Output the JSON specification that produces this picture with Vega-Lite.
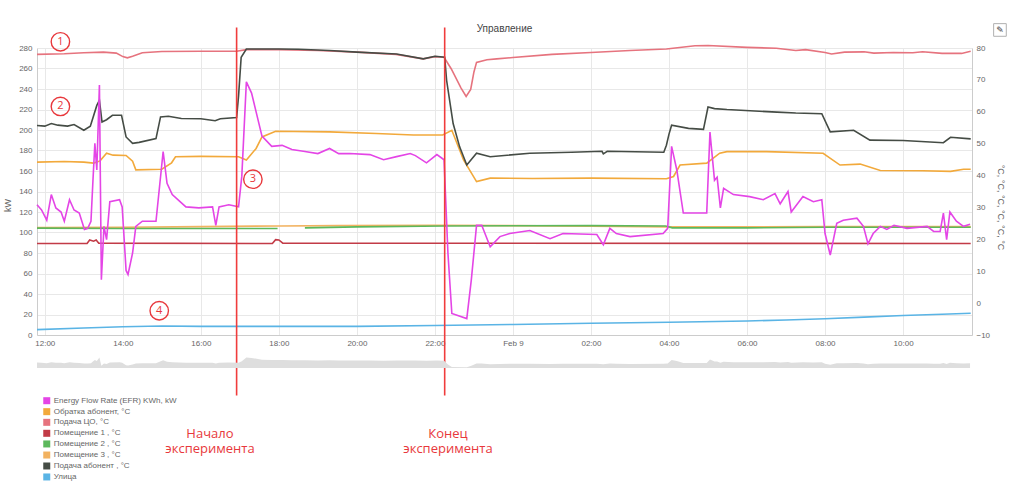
{
  "$schema": "https://vega.github.io/schema/vega-lite/v6.json",
  "width": 935,
  "height": 287,
  "autosize": "none",
  "padding": {"left": 37, "top": 48, "right": 52, "bottom": 155},
  "background": "white",
  "datasets": {
    "series": [
      {"t": "2024-02-08T11:48", "s": "Улица", "v": -8.3},
      {"t": "2024-02-08T13:00", "s": "Улица", "v": -7.8},
      {"t": "2024-02-08T14:00", "s": "Улица", "v": -7.4},
      {"t": "2024-02-08T15:00", "s": "Улица", "v": -7.2},
      {"t": "2024-02-08T16:00", "s": "Улица", "v": -7.3},
      {"t": "2024-02-08T18:00", "s": "Улица", "v": -7.3},
      {"t": "2024-02-08T20:00", "s": "Улица", "v": -7.3},
      {"t": "2024-02-08T22:00", "s": "Улица", "v": -7.0},
      {"t": "2024-02-09T00:00", "s": "Улица", "v": -6.7},
      {"t": "2024-02-09T02:00", "s": "Улица", "v": -6.3},
      {"t": "2024-02-09T04:00", "s": "Улица", "v": -6.0},
      {"t": "2024-02-09T06:00", "s": "Улица", "v": -5.6},
      {"t": "2024-02-09T07:00", "s": "Улица", "v": -5.3},
      {"t": "2024-02-09T08:00", "s": "Улица", "v": -4.9},
      {"t": "2024-02-09T09:00", "s": "Улица", "v": -4.4},
      {"t": "2024-02-09T10:00", "s": "Улица", "v": -3.9},
      {"t": "2024-02-09T11:00", "s": "Улица", "v": -3.5},
      {"t": "2024-02-09T11:44", "s": "Улица", "v": -3.2},

      {"t": "2024-02-08T11:48", "s": "Помещение 3 , °C", "v": 23.7},
      {"t": "2024-02-08T14:00", "s": "Помещение 3 , °C", "v": 23.8},
      {"t": "2024-02-08T16:00", "s": "Помещение 3 , °C", "v": 24.0},
      {"t": "2024-02-08T18:00", "s": "Помещение 3 , °C", "v": 24.2},
      {"t": "2024-02-08T19:30", "s": "Помещение 3 , °C", "v": 24.3},
      {"t": "2024-02-08T22:00", "s": "Помещение 3 , °C", "v": 24.4},
      {"t": "2024-02-09T00:00", "s": "Помещение 3 , °C", "v": 24.3},
      {"t": "2024-02-09T02:00", "s": "Помещение 3 , °C", "v": 24.1},
      {"t": "2024-02-09T04:00", "s": "Помещение 3 , °C", "v": 23.9},
      {"t": "2024-02-09T06:00", "s": "Помещение 3 , °C", "v": 23.9},
      {"t": "2024-02-09T08:00", "s": "Помещение 3 , °C", "v": 24.0},
      {"t": "2024-02-09T11:44", "s": "Помещение 3 , °C", "v": 24.0},

      {"t": "2024-02-08T11:48", "s": "Помещение 2 , °C", "v": 23.5},
      {"t": "2024-02-08T14:00", "s": "Помещение 2 , °C", "v": 23.4},
      {"t": "2024-02-08T16:00", "s": "Помещение 2 , °C", "v": 23.4},
      {"t": "2024-02-08T17:58", "s": "Помещение 2 , °C", "v": 23.4},
      {"t": "2024-02-08T18:10", "s": "Помещение 2 , °C", "v": null},
      {"t": "2024-02-08T18:40", "s": "Помещение 2 , °C", "v": 23.6},
      {"t": "2024-02-08T20:00", "s": "Помещение 2 , °C", "v": 23.9},
      {"t": "2024-02-08T22:15", "s": "Помещение 2 , °C", "v": 24.2},
      {"t": "2024-02-09T02:00", "s": "Помещение 2 , °C", "v": 24.3},
      {"t": "2024-02-09T03:55", "s": "Помещение 2 , °C", "v": 24.2},
      {"t": "2024-02-09T04:05", "s": "Помещение 2 , °C", "v": 23.6},
      {"t": "2024-02-09T06:00", "s": "Помещение 2 , °C", "v": 23.6},
      {"t": "2024-02-09T08:00", "s": "Помещение 2 , °C", "v": 23.8},
      {"t": "2024-02-09T11:44", "s": "Помещение 2 , °C", "v": 23.8},

      {"t": "2024-02-08T11:48", "s": "Помещение 1 , °C", "v": 18.7},
      {"t": "2024-02-08T13:05", "s": "Помещение 1 , °C", "v": 18.7},
      {"t": "2024-02-08T13:09", "s": "Помещение 1 , °C", "v": 19.8},
      {"t": "2024-02-08T13:15", "s": "Помещение 1 , °C", "v": 19.4},
      {"t": "2024-02-08T13:19", "s": "Помещение 1 , °C", "v": 19.8},
      {"t": "2024-02-08T13:23", "s": "Помещение 1 , °C", "v": 18.8},
      {"t": "2024-02-08T17:50", "s": "Помещение 1 , °C", "v": 18.7},
      {"t": "2024-02-08T17:55", "s": "Помещение 1 , °C", "v": 19.9},
      {"t": "2024-02-08T18:00", "s": "Помещение 1 , °C", "v": 19.8},
      {"t": "2024-02-08T18:06", "s": "Помещение 1 , °C", "v": 18.8},
      {"t": "2024-02-09T11:44", "s": "Помещение 1 , °C", "v": 18.7},

      {"t": "2024-02-08T11:48", "s": "Подача ЦО, °C", "v": 78.0},
      {"t": "2024-02-08T12:30", "s": "Подача ЦО, °C", "v": 78.2},
      {"t": "2024-02-08T13:00", "s": "Подача ЦО, °C", "v": 78.5},
      {"t": "2024-02-08T13:30", "s": "Подача ЦО, °C", "v": 78.7},
      {"t": "2024-02-08T13:50", "s": "Подача ЦО, °C", "v": 78.4},
      {"t": "2024-02-08T14:00", "s": "Подача ЦО, °C", "v": 77.3},
      {"t": "2024-02-08T14:07", "s": "Подача ЦО, °C", "v": 76.9},
      {"t": "2024-02-08T14:15", "s": "Подача ЦО, °C", "v": 77.4},
      {"t": "2024-02-08T14:30", "s": "Подача ЦО, °C", "v": 78.5},
      {"t": "2024-02-08T15:00", "s": "Подача ЦО, °C", "v": 78.9},
      {"t": "2024-02-08T16:00", "s": "Подача ЦО, °C", "v": 79.0},
      {"t": "2024-02-08T16:55", "s": "Подача ЦО, °C", "v": 79.0},
      {"t": "2024-02-08T17:10", "s": "Подача ЦО, °C", "v": 79.5},
      {"t": "2024-02-08T18:00", "s": "Подача ЦО, °C", "v": 79.5},
      {"t": "2024-02-08T19:00", "s": "Подача ЦО, °C", "v": 79.2},
      {"t": "2024-02-08T20:00", "s": "Подача ЦО, °C", "v": 78.7},
      {"t": "2024-02-08T21:00", "s": "Подача ЦО, °C", "v": 78.0},
      {"t": "2024-02-08T21:42", "s": "Подача ЦО, °C", "v": 76.6},
      {"t": "2024-02-08T22:00", "s": "Подача ЦО, °C", "v": 77.3},
      {"t": "2024-02-08T22:14", "s": "Подача ЦО, °C", "v": 77.1},
      {"t": "2024-02-08T22:25", "s": "Подача ЦО, °C", "v": 73.5},
      {"t": "2024-02-08T22:40", "s": "Подача ЦО, °C", "v": 67.5},
      {"t": "2024-02-08T22:48", "s": "Подача ЦО, °C", "v": 64.8},
      {"t": "2024-02-08T22:55", "s": "Подача ЦО, °C", "v": 67.0},
      {"t": "2024-02-08T23:00", "s": "Подача ЦО, °C", "v": 72.5},
      {"t": "2024-02-08T23:04", "s": "Подача ЦО, °C", "v": 75.5},
      {"t": "2024-02-08T23:20", "s": "Подача ЦО, °C", "v": 76.3},
      {"t": "2024-02-08T23:35", "s": "Подача ЦО, °C", "v": 76.6},
      {"t": "2024-02-09T00:00", "s": "Подача ЦО, °C", "v": 77.0},
      {"t": "2024-02-09T01:00", "s": "Подача ЦО, °C", "v": 78.0},
      {"t": "2024-02-09T02:00", "s": "Подача ЦО, °C", "v": 78.6},
      {"t": "2024-02-09T03:00", "s": "Подача ЦО, °C", "v": 79.2},
      {"t": "2024-02-09T03:56", "s": "Подача ЦО, °C", "v": 79.7},
      {"t": "2024-02-09T04:40", "s": "Подача ЦО, °C", "v": 80.7},
      {"t": "2024-02-09T05:00", "s": "Подача ЦО, °C", "v": 80.8},
      {"t": "2024-02-09T06:00", "s": "Подача ЦО, °C", "v": 80.2},
      {"t": "2024-02-09T06:45", "s": "Подача ЦО, °C", "v": 79.9},
      {"t": "2024-02-09T07:15", "s": "Подача ЦО, °C", "v": 79.2},
      {"t": "2024-02-09T07:30", "s": "Подача ЦО, °C", "v": 79.5},
      {"t": "2024-02-09T08:00", "s": "Подача ЦО, °C", "v": 78.6},
      {"t": "2024-02-09T08:10", "s": "Подача ЦО, °C", "v": 78.1},
      {"t": "2024-02-09T08:30", "s": "Подача ЦО, °C", "v": 78.7},
      {"t": "2024-02-09T09:00", "s": "Подача ЦО, °C", "v": 78.8},
      {"t": "2024-02-09T09:15", "s": "Подача ЦО, °C", "v": 78.4},
      {"t": "2024-02-09T09:45", "s": "Подача ЦО, °C", "v": 78.6},
      {"t": "2024-02-09T10:15", "s": "Подача ЦО, °C", "v": 78.5},
      {"t": "2024-02-09T10:30", "s": "Подача ЦО, °C", "v": 78.8},
      {"t": "2024-02-09T11:00", "s": "Подача ЦО, °C", "v": 78.3},
      {"t": "2024-02-09T11:30", "s": "Подача ЦО, °C", "v": 78.3},
      {"t": "2024-02-09T11:44", "s": "Подача ЦО, °C", "v": 79.0},

      {"t": "2024-02-08T11:48", "s": "Обратка абонент, °C", "v": 44.2},
      {"t": "2024-02-08T12:30", "s": "Обратка абонент, °C", "v": 44.4},
      {"t": "2024-02-08T13:00", "s": "Обратка абонент, °C", "v": 44.2},
      {"t": "2024-02-08T13:15", "s": "Обратка абонент, °C", "v": 43.9},
      {"t": "2024-02-08T13:25", "s": "Обратка абонент, °C", "v": 44.6},
      {"t": "2024-02-08T13:35", "s": "Обратка абонент, °C", "v": 47.0},
      {"t": "2024-02-08T13:45", "s": "Обратка абонент, °C", "v": 46.4},
      {"t": "2024-02-08T14:05", "s": "Обратка абонент, °C", "v": 46.3},
      {"t": "2024-02-08T14:15", "s": "Обратка абонент, °C", "v": 44.5},
      {"t": "2024-02-08T14:20", "s": "Обратка абонент, °C", "v": 41.8},
      {"t": "2024-02-08T15:00", "s": "Обратка абонент, °C", "v": 42.0},
      {"t": "2024-02-08T15:15", "s": "Обратка абонент, °C", "v": 44.0},
      {"t": "2024-02-08T15:21", "s": "Обратка абонент, °C", "v": 45.9},
      {"t": "2024-02-08T16:00", "s": "Обратка абонент, °C", "v": 46.0},
      {"t": "2024-02-08T16:58", "s": "Обратка абонент, °C", "v": 45.9},
      {"t": "2024-02-08T17:10", "s": "Обратка абонент, °C", "v": 44.9},
      {"t": "2024-02-08T17:25", "s": "Обратка абонент, °C", "v": 48.5},
      {"t": "2024-02-08T17:34", "s": "Обратка абонент, °C", "v": 52.1},
      {"t": "2024-02-08T17:55", "s": "Обратка абонент, °C", "v": 53.9},
      {"t": "2024-02-08T19:18", "s": "Обратка абонент, °C", "v": 53.7},
      {"t": "2024-02-08T20:30", "s": "Обратка абонент, °C", "v": 53.2},
      {"t": "2024-02-08T21:27", "s": "Обратка абонент, °C", "v": 52.7},
      {"t": "2024-02-08T22:12", "s": "Обратка абонент, °C", "v": 52.7},
      {"t": "2024-02-08T22:26", "s": "Обратка абонент, °C", "v": 54.2},
      {"t": "2024-02-08T22:44", "s": "Обратка абонент, °C", "v": 44.9},
      {"t": "2024-02-08T23:04", "s": "Обратка абонент, °C", "v": 38.1},
      {"t": "2024-02-08T23:25", "s": "Обратка абонент, °C", "v": 39.2},
      {"t": "2024-02-09T00:30", "s": "Обратка абонент, °C", "v": 39.1},
      {"t": "2024-02-09T02:00", "s": "Обратка абонент, °C", "v": 39.2},
      {"t": "2024-02-09T03:56", "s": "Обратка абонент, °C", "v": 39.0},
      {"t": "2024-02-09T04:07", "s": "Обратка абонент, °C", "v": 39.7},
      {"t": "2024-02-09T04:17", "s": "Обратка абонент, °C", "v": 43.3},
      {"t": "2024-02-09T04:58", "s": "Обратка абонент, °C", "v": 43.9},
      {"t": "2024-02-09T05:18", "s": "Обратка абонент, °C", "v": 47.0},
      {"t": "2024-02-09T05:29", "s": "Обратка абонент, °C", "v": 47.5},
      {"t": "2024-02-09T06:30", "s": "Обратка абонент, °C", "v": 47.5},
      {"t": "2024-02-09T07:57", "s": "Обратка абонент, °C", "v": 47.0},
      {"t": "2024-02-09T08:23", "s": "Обратка абонент, °C", "v": 43.3},
      {"t": "2024-02-09T08:54", "s": "Обратка абонент, °C", "v": 43.6},
      {"t": "2024-02-09T09:25", "s": "Обратка абонент, °C", "v": 41.6},
      {"t": "2024-02-09T10:30", "s": "Обратка абонент, °C", "v": 41.5},
      {"t": "2024-02-09T11:13", "s": "Обратка абонент, °C", "v": 41.3},
      {"t": "2024-02-09T11:33", "s": "Обратка абонент, °C", "v": 42.0},
      {"t": "2024-02-09T11:44", "s": "Обратка абонент, °C", "v": 42.0},

      {"t": "2024-02-08T11:48", "s": "Подача абонент , °C", "v": 55.7},
      {"t": "2024-02-08T12:00", "s": "Подача абонент , °C", "v": 55.5},
      {"t": "2024-02-08T12:10", "s": "Подача абонент , °C", "v": 56.3},
      {"t": "2024-02-08T12:20", "s": "Подача абонент , °C", "v": 55.8},
      {"t": "2024-02-08T12:35", "s": "Подача абонент , °C", "v": 55.5},
      {"t": "2024-02-08T12:45", "s": "Подача абонент , °C", "v": 56.0},
      {"t": "2024-02-08T13:00", "s": "Подача абонент , °C", "v": 54.2},
      {"t": "2024-02-08T13:10", "s": "Подача абонент , °C", "v": 55.5},
      {"t": "2024-02-08T13:20", "s": "Подача абонент , °C", "v": 62.0},
      {"t": "2024-02-08T13:24", "s": "Подача абонент , °C", "v": 63.6},
      {"t": "2024-02-08T13:28", "s": "Подача абонент , °C", "v": 56.8},
      {"t": "2024-02-08T13:35", "s": "Подача абонент , °C", "v": 57.5},
      {"t": "2024-02-08T13:44", "s": "Подача абонент , °C", "v": 58.9},
      {"t": "2024-02-08T13:58", "s": "Подача абонент , °C", "v": 58.9},
      {"t": "2024-02-08T14:05", "s": "Подача абонент , °C", "v": 52.1},
      {"t": "2024-02-08T14:15", "s": "Подача абонент , °C", "v": 50.1},
      {"t": "2024-02-08T14:25", "s": "Подача абонент , °C", "v": 50.4},
      {"t": "2024-02-08T14:51", "s": "Подача абонент , °C", "v": 51.6},
      {"t": "2024-02-08T14:58", "s": "Подача абонент , °C", "v": 58.4},
      {"t": "2024-02-08T15:10", "s": "Подача абонент , °C", "v": 58.6},
      {"t": "2024-02-08T15:30", "s": "Подача абонент , °C", "v": 57.9},
      {"t": "2024-02-08T16:00", "s": "Подача абонент , °C", "v": 57.8},
      {"t": "2024-02-08T16:22", "s": "Подача абонент , °C", "v": 57.2},
      {"t": "2024-02-08T16:30", "s": "Подача абонент , °C", "v": 57.8},
      {"t": "2024-02-08T16:55", "s": "Подача абонент , °C", "v": 58.2},
      {"t": "2024-02-08T16:58", "s": "Подача абонент , °C", "v": 65.0},
      {"t": "2024-02-08T17:02", "s": "Подача абонент , °C", "v": 77.1},
      {"t": "2024-02-08T17:10", "s": "Подача абонент , °C", "v": 79.7},
      {"t": "2024-02-08T18:00", "s": "Подача абонент , °C", "v": 79.7},
      {"t": "2024-02-08T18:30", "s": "Подача абонент , °C", "v": 79.6},
      {"t": "2024-02-08T19:18", "s": "Подача абонент , °C", "v": 79.2},
      {"t": "2024-02-08T20:00", "s": "Подача абонент , °C", "v": 78.7},
      {"t": "2024-02-08T21:01", "s": "Подача абонент , °C", "v": 78.1},
      {"t": "2024-02-08T21:42", "s": "Подача абонент , °C", "v": 76.6},
      {"t": "2024-02-08T22:00", "s": "Подача абонент , °C", "v": 77.4},
      {"t": "2024-02-08T22:15", "s": "Подача абонент , °C", "v": 77.1},
      {"t": "2024-02-08T22:18", "s": "Подача абонент , °C", "v": 69.8},
      {"t": "2024-02-08T22:28", "s": "Подача абонент , °C", "v": 56.3},
      {"t": "2024-02-08T22:38", "s": "Подача абонент , °C", "v": 49.0},
      {"t": "2024-02-08T22:49", "s": "Подача абонент , °C", "v": 43.3},
      {"t": "2024-02-08T23:04", "s": "Подача абонент , °C", "v": 47.0},
      {"t": "2024-02-08T23:25", "s": "Подача абонент , °C", "v": 45.9},
      {"t": "2024-02-09T00:26", "s": "Подача абонент , °C", "v": 47.0},
      {"t": "2024-02-09T01:30", "s": "Подача абонент , °C", "v": 47.3},
      {"t": "2024-02-09T02:17", "s": "Подача абонент , °C", "v": 47.6},
      {"t": "2024-02-09T02:19", "s": "Подача абонент , °C", "v": 46.8},
      {"t": "2024-02-09T02:25", "s": "Подача абонент , °C", "v": 47.6},
      {"t": "2024-02-09T03:52", "s": "Подача абонент , °C", "v": 47.3},
      {"t": "2024-02-09T03:56", "s": "Подача абонент , °C", "v": 49.5},
      {"t": "2024-02-09T04:00", "s": "Подача абонент , °C", "v": 53.0},
      {"t": "2024-02-09T04:04", "s": "Подача абонент , °C", "v": 55.8},
      {"t": "2024-02-09T04:30", "s": "Подача абонент , °C", "v": 54.8},
      {"t": "2024-02-09T04:53", "s": "Подача абонент , °C", "v": 54.5},
      {"t": "2024-02-09T05:00", "s": "Подача абонент , °C", "v": 61.5},
      {"t": "2024-02-09T05:10", "s": "Подача абонент , °C", "v": 61.0},
      {"t": "2024-02-09T05:29", "s": "Подача абонент , °C", "v": 60.7},
      {"t": "2024-02-09T06:46", "s": "Подача абонент , °C", "v": 59.9},
      {"t": "2024-02-09T07:15", "s": "Подача абонент , °C", "v": 59.6},
      {"t": "2024-02-09T07:55", "s": "Подача абонент , °C", "v": 59.4},
      {"t": "2024-02-09T08:08", "s": "Подача абонент , °C", "v": 53.7},
      {"t": "2024-02-09T08:44", "s": "Подача абонент , °C", "v": 54.2},
      {"t": "2024-02-09T09:09", "s": "Подача абонент , °C", "v": 51.1},
      {"t": "2024-02-09T10:00", "s": "Подача абонент , °C", "v": 51.0},
      {"t": "2024-02-09T11:02", "s": "Подача абонент , °C", "v": 50.3},
      {"t": "2024-02-09T11:13", "s": "Подача абонент , °C", "v": 52.0},
      {"t": "2024-02-09T11:44", "s": "Подача абонент , °C", "v": 51.5},

      {"t": "2024-02-08T11:48", "s": "Energy Flow Rate (EFR) KWh, kW", "v": 127},
      {"t": "2024-02-08T11:55", "s": "Energy Flow Rate (EFR) KWh, kW", "v": 122},
      {"t": "2024-02-08T12:03", "s": "Energy Flow Rate (EFR) KWh, kW", "v": 112},
      {"t": "2024-02-08T12:10", "s": "Energy Flow Rate (EFR) KWh, kW", "v": 137},
      {"t": "2024-02-08T12:17", "s": "Energy Flow Rate (EFR) KWh, kW", "v": 124},
      {"t": "2024-02-08T12:25", "s": "Energy Flow Rate (EFR) KWh, kW", "v": 120},
      {"t": "2024-02-08T12:30", "s": "Energy Flow Rate (EFR) KWh, kW", "v": 111},
      {"t": "2024-02-08T12:38", "s": "Energy Flow Rate (EFR) KWh, kW", "v": 132},
      {"t": "2024-02-08T12:45", "s": "Energy Flow Rate (EFR) KWh, kW", "v": 122},
      {"t": "2024-02-08T12:53", "s": "Energy Flow Rate (EFR) KWh, kW", "v": 119},
      {"t": "2024-02-08T13:01", "s": "Energy Flow Rate (EFR) KWh, kW", "v": 103},
      {"t": "2024-02-08T13:06", "s": "Energy Flow Rate (EFR) KWh, kW", "v": 104},
      {"t": "2024-02-08T13:11", "s": "Energy Flow Rate (EFR) KWh, kW", "v": 111},
      {"t": "2024-02-08T13:14", "s": "Energy Flow Rate (EFR) KWh, kW", "v": 150},
      {"t": "2024-02-08T13:17", "s": "Energy Flow Rate (EFR) KWh, kW", "v": 187},
      {"t": "2024-02-08T13:20", "s": "Energy Flow Rate (EFR) KWh, kW", "v": 161},
      {"t": "2024-02-08T13:24", "s": "Energy Flow Rate (EFR) KWh, kW", "v": 244},
      {"t": "2024-02-08T13:27", "s": "Energy Flow Rate (EFR) KWh, kW", "v": 54},
      {"t": "2024-02-08T13:31", "s": "Energy Flow Rate (EFR) KWh, kW", "v": 106},
      {"t": "2024-02-08T13:35", "s": "Energy Flow Rate (EFR) KWh, kW", "v": 93},
      {"t": "2024-02-08T13:40", "s": "Energy Flow Rate (EFR) KWh, kW", "v": 130},
      {"t": "2024-02-08T13:55", "s": "Energy Flow Rate (EFR) KWh, kW", "v": 132},
      {"t": "2024-02-08T13:59", "s": "Energy Flow Rate (EFR) KWh, kW", "v": 125},
      {"t": "2024-02-08T14:05", "s": "Energy Flow Rate (EFR) KWh, kW", "v": 63},
      {"t": "2024-02-08T14:08", "s": "Energy Flow Rate (EFR) KWh, kW", "v": 59},
      {"t": "2024-02-08T14:15", "s": "Energy Flow Rate (EFR) KWh, kW", "v": 80},
      {"t": "2024-02-08T14:20", "s": "Energy Flow Rate (EFR) KWh, kW", "v": 106},
      {"t": "2024-02-08T14:30", "s": "Energy Flow Rate (EFR) KWh, kW", "v": 111},
      {"t": "2024-02-08T14:51", "s": "Energy Flow Rate (EFR) KWh, kW", "v": 111},
      {"t": "2024-02-08T15:02", "s": "Energy Flow Rate (EFR) KWh, kW", "v": 179},
      {"t": "2024-02-08T15:08", "s": "Energy Flow Rate (EFR) KWh, kW", "v": 148},
      {"t": "2024-02-08T15:16", "s": "Energy Flow Rate (EFR) KWh, kW", "v": 137},
      {"t": "2024-02-08T15:37", "s": "Energy Flow Rate (EFR) KWh, kW", "v": 125},
      {"t": "2024-02-08T15:57", "s": "Energy Flow Rate (EFR) KWh, kW", "v": 124},
      {"t": "2024-02-08T16:18", "s": "Energy Flow Rate (EFR) KWh, kW", "v": 125},
      {"t": "2024-02-08T16:23", "s": "Energy Flow Rate (EFR) KWh, kW", "v": 107},
      {"t": "2024-02-08T16:28", "s": "Energy Flow Rate (EFR) KWh, kW", "v": 125},
      {"t": "2024-02-08T16:43", "s": "Energy Flow Rate (EFR) KWh, kW", "v": 127},
      {"t": "2024-02-08T16:58", "s": "Energy Flow Rate (EFR) KWh, kW", "v": 125},
      {"t": "2024-02-08T17:03", "s": "Energy Flow Rate (EFR) KWh, kW", "v": 155},
      {"t": "2024-02-08T17:10", "s": "Energy Flow Rate (EFR) KWh, kW", "v": 247},
      {"t": "2024-02-08T17:18", "s": "Energy Flow Rate (EFR) KWh, kW", "v": 236},
      {"t": "2024-02-08T17:34", "s": "Energy Flow Rate (EFR) KWh, kW", "v": 194},
      {"t": "2024-02-08T17:49", "s": "Energy Flow Rate (EFR) KWh, kW", "v": 184},
      {"t": "2024-02-08T18:05", "s": "Energy Flow Rate (EFR) KWh, kW", "v": 185},
      {"t": "2024-02-08T18:20", "s": "Energy Flow Rate (EFR) KWh, kW", "v": 181},
      {"t": "2024-02-08T18:40", "s": "Energy Flow Rate (EFR) KWh, kW", "v": 179},
      {"t": "2024-02-08T19:00", "s": "Energy Flow Rate (EFR) KWh, kW", "v": 177},
      {"t": "2024-02-08T19:18", "s": "Energy Flow Rate (EFR) KWh, kW", "v": 182},
      {"t": "2024-02-08T19:32", "s": "Energy Flow Rate (EFR) KWh, kW", "v": 177},
      {"t": "2024-02-08T19:49", "s": "Energy Flow Rate (EFR) KWh, kW", "v": 177},
      {"t": "2024-02-08T20:20", "s": "Energy Flow Rate (EFR) KWh, kW", "v": 176},
      {"t": "2024-02-08T20:41", "s": "Energy Flow Rate (EFR) KWh, kW", "v": 171},
      {"t": "2024-02-08T21:01", "s": "Energy Flow Rate (EFR) KWh, kW", "v": 174},
      {"t": "2024-02-08T21:22", "s": "Energy Flow Rate (EFR) KWh, kW", "v": 177},
      {"t": "2024-02-08T21:30", "s": "Energy Flow Rate (EFR) KWh, kW", "v": 175},
      {"t": "2024-02-08T21:47", "s": "Energy Flow Rate (EFR) KWh, kW", "v": 168},
      {"t": "2024-02-08T22:03", "s": "Energy Flow Rate (EFR) KWh, kW", "v": 176},
      {"t": "2024-02-08T22:14", "s": "Energy Flow Rate (EFR) KWh, kW", "v": 171},
      {"t": "2024-02-08T22:20", "s": "Energy Flow Rate (EFR) KWh, kW", "v": 80},
      {"t": "2024-02-08T22:26", "s": "Energy Flow Rate (EFR) KWh, kW", "v": 21},
      {"t": "2024-02-08T22:49", "s": "Energy Flow Rate (EFR) KWh, kW", "v": 16},
      {"t": "2024-02-08T22:56", "s": "Energy Flow Rate (EFR) KWh, kW", "v": 54},
      {"t": "2024-02-08T23:04", "s": "Energy Flow Rate (EFR) KWh, kW", "v": 107},
      {"t": "2024-02-08T23:12", "s": "Energy Flow Rate (EFR) KWh, kW", "v": 107},
      {"t": "2024-02-08T23:25", "s": "Energy Flow Rate (EFR) KWh, kW", "v": 86},
      {"t": "2024-02-08T23:40", "s": "Energy Flow Rate (EFR) KWh, kW", "v": 96},
      {"t": "2024-02-08T23:55", "s": "Energy Flow Rate (EFR) KWh, kW", "v": 99},
      {"t": "2024-02-09T00:26", "s": "Energy Flow Rate (EFR) KWh, kW", "v": 102},
      {"t": "2024-02-09T00:57", "s": "Energy Flow Rate (EFR) KWh, kW", "v": 94},
      {"t": "2024-02-09T01:17", "s": "Energy Flow Rate (EFR) KWh, kW", "v": 99},
      {"t": "2024-02-09T02:09", "s": "Energy Flow Rate (EFR) KWh, kW", "v": 98},
      {"t": "2024-02-09T02:19", "s": "Energy Flow Rate (EFR) KWh, kW", "v": 88},
      {"t": "2024-02-09T02:29", "s": "Energy Flow Rate (EFR) KWh, kW", "v": 104},
      {"t": "2024-02-09T02:39", "s": "Energy Flow Rate (EFR) KWh, kW", "v": 99},
      {"t": "2024-02-09T03:00", "s": "Energy Flow Rate (EFR) KWh, kW", "v": 96},
      {"t": "2024-02-09T03:51", "s": "Energy Flow Rate (EFR) KWh, kW", "v": 99},
      {"t": "2024-02-09T03:58", "s": "Energy Flow Rate (EFR) KWh, kW", "v": 104},
      {"t": "2024-02-09T04:04", "s": "Energy Flow Rate (EFR) KWh, kW", "v": 184},
      {"t": "2024-02-09T04:12", "s": "Energy Flow Rate (EFR) KWh, kW", "v": 161},
      {"t": "2024-02-09T04:22", "s": "Energy Flow Rate (EFR) KWh, kW", "v": 119},
      {"t": "2024-02-09T04:58", "s": "Energy Flow Rate (EFR) KWh, kW", "v": 119},
      {"t": "2024-02-09T05:03", "s": "Energy Flow Rate (EFR) KWh, kW", "v": 198},
      {"t": "2024-02-09T05:10", "s": "Energy Flow Rate (EFR) KWh, kW", "v": 151},
      {"t": "2024-02-09T05:14", "s": "Energy Flow Rate (EFR) KWh, kW", "v": 154},
      {"t": "2024-02-09T05:19", "s": "Energy Flow Rate (EFR) KWh, kW", "v": 124},
      {"t": "2024-02-09T05:24", "s": "Energy Flow Rate (EFR) KWh, kW", "v": 143},
      {"t": "2024-02-09T05:39", "s": "Energy Flow Rate (EFR) KWh, kW", "v": 137},
      {"t": "2024-02-09T06:04", "s": "Energy Flow Rate (EFR) KWh, kW", "v": 135},
      {"t": "2024-02-09T06:25", "s": "Energy Flow Rate (EFR) KWh, kW", "v": 132},
      {"t": "2024-02-09T06:43", "s": "Energy Flow Rate (EFR) KWh, kW", "v": 138},
      {"t": "2024-02-09T06:51", "s": "Energy Flow Rate (EFR) KWh, kW", "v": 128},
      {"t": "2024-02-09T07:03", "s": "Energy Flow Rate (EFR) KWh, kW", "v": 140},
      {"t": "2024-02-09T07:08", "s": "Energy Flow Rate (EFR) KWh, kW", "v": 120},
      {"t": "2024-02-09T07:26", "s": "Energy Flow Rate (EFR) KWh, kW", "v": 135},
      {"t": "2024-02-09T07:42", "s": "Energy Flow Rate (EFR) KWh, kW", "v": 130},
      {"t": "2024-02-09T07:55", "s": "Energy Flow Rate (EFR) KWh, kW", "v": 132},
      {"t": "2024-02-09T08:00", "s": "Energy Flow Rate (EFR) KWh, kW", "v": 99},
      {"t": "2024-02-09T08:08", "s": "Energy Flow Rate (EFR) KWh, kW", "v": 78},
      {"t": "2024-02-09T08:18", "s": "Energy Flow Rate (EFR) KWh, kW", "v": 109},
      {"t": "2024-02-09T08:28", "s": "Energy Flow Rate (EFR) KWh, kW", "v": 112},
      {"t": "2024-02-09T08:49", "s": "Energy Flow Rate (EFR) KWh, kW", "v": 114},
      {"t": "2024-02-09T08:59", "s": "Energy Flow Rate (EFR) KWh, kW", "v": 106},
      {"t": "2024-02-09T09:06", "s": "Energy Flow Rate (EFR) KWh, kW", "v": 89},
      {"t": "2024-02-09T09:14", "s": "Energy Flow Rate (EFR) KWh, kW", "v": 99},
      {"t": "2024-02-09T09:25", "s": "Energy Flow Rate (EFR) KWh, kW", "v": 106},
      {"t": "2024-02-09T09:35", "s": "Energy Flow Rate (EFR) KWh, kW", "v": 103},
      {"t": "2024-02-09T09:46", "s": "Energy Flow Rate (EFR) KWh, kW", "v": 107},
      {"t": "2024-02-09T10:06", "s": "Energy Flow Rate (EFR) KWh, kW", "v": 104},
      {"t": "2024-02-09T10:37", "s": "Energy Flow Rate (EFR) KWh, kW", "v": 106},
      {"t": "2024-02-09T10:47", "s": "Energy Flow Rate (EFR) KWh, kW", "v": 101},
      {"t": "2024-02-09T10:57", "s": "Energy Flow Rate (EFR) KWh, kW", "v": 101},
      {"t": "2024-02-09T11:02", "s": "Energy Flow Rate (EFR) KWh, kW", "v": 119},
      {"t": "2024-02-09T11:07", "s": "Energy Flow Rate (EFR) KWh, kW", "v": 93},
      {"t": "2024-02-09T11:12", "s": "Energy Flow Rate (EFR) KWh, kW", "v": 120},
      {"t": "2024-02-09T11:22", "s": "Energy Flow Rate (EFR) KWh, kW", "v": 111},
      {"t": "2024-02-09T11:33", "s": "Energy Flow Rate (EFR) KWh, kW", "v": 106},
      {"t": "2024-02-09T11:43", "s": "Energy Flow Rate (EFR) KWh, kW", "v": 108}
    ],
    "legendrows": [
      {"t": "2024-02-08T12:03", "v": -64.1, "s": "Energy Flow Rate (EFR) KWh, kW"},
      {"t": "2024-02-08T12:03", "v": -74.8, "s": "Обратка абонент, °C"},
      {"t": "2024-02-08T12:03", "v": -85.2, "s": "Подача ЦО, °C"},
      {"t": "2024-02-08T12:03", "v": -95.9, "s": "Помещение 1 , °C"},
      {"t": "2024-02-08T12:03", "v": -106.3, "s": "Помещение 2 , °C"},
      {"t": "2024-02-08T12:03", "v": -117.1, "s": "Помещение 3 , °C"},
      {"t": "2024-02-08T12:03", "v": -127.8, "s": "Подача абонент , °C"},
      {"t": "2024-02-08T12:03", "v": -138.5, "s": "Улица"}
    ],
    "rules": [
      {"t": "2024-02-08T16:55", "v": 300, "v2": -59},
      {"t": "2024-02-08T22:15", "v": 300, "v2": -59}
    ],
    "circles": [
      {"t": "2024-02-08T12:24", "v": 286, "n": "1"},
      {"t": "2024-02-08T12:24", "v": 223, "n": "2"},
      {"t": "2024-02-08T17:20", "v": 152, "n": "3"},
      {"t": "2024-02-08T14:56", "v": 23.7, "n": "4"}
    ],
    "notes": [
      {"t": "2024-02-08T16:14", "v": -96.5, "txt": "Начало"},
      {"t": "2024-02-08T16:14", "v": -111.5, "txt": "эксперимента"},
      {"t": "2024-02-08T22:20", "v": -96.5, "txt": "Конец"},
      {"t": "2024-02-08T22:20", "v": -111.5, "txt": "эксперимента"}
    ],
    "heading": [
      {"t": "2024-02-08T23:47", "v": 298.5, "txt": "Управление"}
    ],
    "icon": [
      {"t": "2024-02-09T12:29", "v": 297.6, "g": "✎"}
    ]
  },
  "encoding": {
    "x": {
      "field": "t",
      "type": "temporal",
      "title": null,
      "scale": {"domain": [{"year": 2024, "month": 2, "date": 8, "hours": 11, "minutes": 48}, {"year": 2024, "month": 2, "date": 9, "hours": 11, "minutes": 46}], "nice": false},
      "axis": {
        "orient": "bottom",
        "values": [
          {"year": 2024, "month": 2, "date": 8, "hours": 12},
          {"year": 2024, "month": 2, "date": 8, "hours": 14},
          {"year": 2024, "month": 2, "date": 8, "hours": 16},
          {"year": 2024, "month": 2, "date": 8, "hours": 18},
          {"year": 2024, "month": 2, "date": 8, "hours": 20},
          {"year": 2024, "month": 2, "date": 8, "hours": 22},
          {"year": 2024, "month": 2, "date": 9, "hours": 0},
          {"year": 2024, "month": 2, "date": 9, "hours": 2},
          {"year": 2024, "month": 2, "date": 9, "hours": 4},
          {"year": 2024, "month": 2, "date": 9, "hours": 6},
          {"year": 2024, "month": 2, "date": 9, "hours": 8},
          {"year": 2024, "month": 2, "date": 9, "hours": 10}
        ],
        "format": "%H:%M",
        "labelExpr": "datum.label == '00:00' ? 'Feb 9' : datum.label",
        "grid": true,
        "labelPadding": 4,
        "labelFlush": false,
        "domainColor": "#cccccc"
      }
    }
  },
  "layer": [
    {
      "data": {"name": "series"},
      "transform": [{"filter": "datum.s !== 'Energy Flow Rate (EFR) KWh, kW'"}],
      "mark": {"type": "line", "strokeWidth": 1.6, "invalid": "break-paths-show-domains"},
      "encoding": {
        "y": {
          "field": "v",
          "type": "quantitative",
          "scale": {"domain": [-10, 80], "nice": false, "zero": false},
          "axis": {
            "orient": "right",
            "title": "°C, °C, °C, °C, °C, °C",
            "titleAngle": 90,
            "titleY": 159,
            "titlePadding": 6,
            "values": [-10, 0, 10, 20, 30, 40, 50, 60, 70, 80],
            "grid": false,
            "labelPadding": 4,
            "domainColor": "#cccccc"
          }
        },
        "color": {
          "field": "s",
          "type": "nominal",
          "scale": {
            "domain": ["Energy Flow Rate (EFR) KWh, kW", "Обратка абонент, °C", "Подача ЦО, °C", "Помещение 1 , °C", "Помещение 2 , °C", "Помещение 3 , °C", "Подача абонент , °C", "Улица"],
            "range": ["#e445e6", "#f2a93b", "#e6737e", "#c23b47", "#5cb85c", "#f2b260", "#454c45", "#5ab4e5"]
          },
          "legend": null
        }
      }
    },
    {
      "encoding": {
        "y": {
          "field": "v",
          "type": "quantitative",
          "title": "kW",
          "scale": {"domain": [0, 280], "nice": false},
          "axis": {
            "orient": "left",
            "values": [0, 20, 40, 60, 80, 100, 120, 140, 160, 180, 200, 220, 240, 260, 280],
            "grid": true,
            "labelPadding": 5,
            "titlePadding": 6,
            "titleY": 157,
            "domainColor": "#cccccc"
          }
        }
      },
      "layer": [
        {
          "data": {"name": "series"},
          "transform": [{"filter": "datum.s === 'Energy Flow Rate (EFR) KWh, kW'"}],
          "mark": {"type": "line", "strokeWidth": 1.6},
          "encoding": {
            "color": {
              "field": "s",
              "type": "nominal",
              "scale": {
                "domain": ["Energy Flow Rate (EFR) KWh, kW", "Обратка абонент, °C", "Подача ЦО, °C", "Помещение 1 , °C", "Помещение 2 , °C", "Помещение 3 , °C", "Подача абонент , °C", "Улица"],
                "range": ["#e445e6", "#f2a93b", "#e6737e", "#c23b47", "#5cb85c", "#f2b260", "#454c45", "#5ab4e5"]
              },
              "legend": null
            }
          }
        },
        {
          "data": {"name": "legendrows"},
          "mark": {"type": "point", "shape": "square", "filled": true, "size": 49, "opacity": 1},
          "encoding": {
            "color": {
              "field": "s",
              "type": "nominal",
              "scale": {
                "domain": ["Energy Flow Rate (EFR) KWh, kW", "Обратка абонент, °C", "Подача ЦО, °C", "Помещение 1 , °C", "Помещение 2 , °C", "Помещение 3 , °C", "Подача абонент , °C", "Улица"],
                "range": ["#e445e6", "#f2a93b", "#e6737e", "#c23b47", "#5cb85c", "#f2b260", "#454c45", "#5ab4e5"]
              },
              "legend": null
            }
          }
        },
        {
          "data": {"name": "legendrows"},
          "mark": {"type": "text", "color": "#666666", "fontSize": 8, "font": "Liberation Sans", "align": "left", "baseline": "middle", "dx": 7},
          "encoding": {"text": {"field": "s"}}
        },
        {
          "data": {"name": "rules"},
          "mark": {"type": "rule", "color": "#f03c3c", "strokeWidth": 1.6},
          "encoding": {"y2": {"field": "v2"}}
        },
        {
          "data": {"name": "circles"},
          "mark": {"type": "point", "shape": "circle", "filled": false, "size": 340, "stroke": "#e8383c", "strokeWidth": 1.4, "opacity": 1}
        },
        {
          "data": {"name": "circles"},
          "mark": {"type": "text", "color": "#e8383c", "fontSize": 11, "font": "Open Sans", "align": "center", "baseline": "middle"},
          "encoding": {"text": {"field": "n"}}
        },
        {
          "data": {"name": "notes"},
          "mark": {"type": "text", "color": "#e8383c", "fontSize": 13, "font": "Open Sans", "align": "center", "baseline": "middle"},
          "encoding": {"text": {"field": "txt"}}
        },
        {
          "data": {"name": "heading"},
          "mark": {"type": "text", "color": "#444444", "fontSize": 10, "font": "Liberation Sans", "align": "center", "baseline": "middle"},
          "encoding": {"text": {"field": "txt"}}
        },
        {
          "data": {"name": "icon"},
          "mark": {"type": "point", "shape": "square", "filled": false, "size": 160, "stroke": "#b0b0b0", "strokeWidth": 1, "opacity": 1}
        },
        {
          "data": {"name": "icon"},
          "mark": {"type": "text", "color": "#333333", "fontSize": 9, "font": "DejaVu Sans", "align": "center", "baseline": "middle"},
          "encoding": {"text": {"field": "g"}}
        }
      ]
    },
    {
      "data": {"name": "series"},
      "transform": [{"filter": "datum.s === 'Energy Flow Rate (EFR) KWh, kW'"}],
      "mark": {"type": "area", "color": "#dedede", "opacity": 1},
      "encoding": {
        "y": {"field": "v", "type": "quantitative", "scale": {"domain": [0, 280], "range": [320, 308], "nice": false, "zero": true}, "axis": null}
      }
    }
  ],
  "resolve": {"scale": {"y": "independent"}},
  "config": {
    "view": {"stroke": null},
    "font": "Liberation Sans",
    "axis": {
      "labelFont": "Liberation Sans",
      "titleFont": "Liberation Sans",
      "labelFontSize": 8,
      "labelColor": "#666666",
      "titleColor": "#666666",
      "titleFontWeight": "normal",
      "titleFontSize": 9,
      "gridColor": "#e8e8e8",
      "ticks": false
    }
  }
}
